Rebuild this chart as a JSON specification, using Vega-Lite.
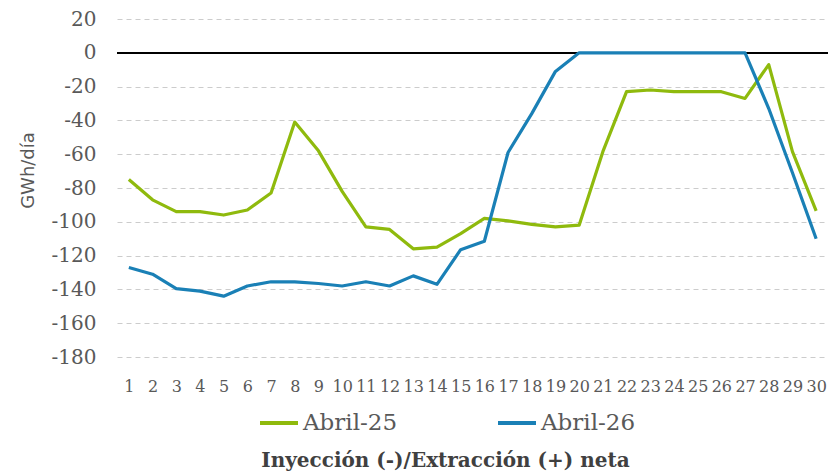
{
  "$schema": "https://vega.github.io/schema/vega-lite/v6.json",
  "width": 711,
  "height": 338,
  "autosize": "none",
  "padding": {"left": 117, "top": 19, "right": 2, "bottom": 114},
  "background": "white",
  "config": {
    "view": {"stroke": null},
    "font": "DejaVu Serif",
    "axisY": {"labelOverlap": false},
    "legend": {"labelFont": "DejaVu Serif", "labelFontSize": 23, "labelColor": "#595959"}
  },
  "title": {
    "text": "Inyección (-)/Extracción (+) neta",
    "orient": "bottom",
    "anchor": "middle",
    "fontSize": 20,
    "fontWeight": "bold",
    "color": "#404040",
    "font": "DejaVu Serif",
    "dx": -27,
    "offset": 16
  },
  "data": {
    "values": [
      {"day": 1, "serie": "Abril-25", "value": -75},
      {"day": 2, "serie": "Abril-25", "value": -87},
      {"day": 3, "serie": "Abril-25", "value": -94},
      {"day": 4, "serie": "Abril-25", "value": -94},
      {"day": 5, "serie": "Abril-25", "value": -96},
      {"day": 6, "serie": "Abril-25", "value": -93},
      {"day": 7, "serie": "Abril-25", "value": -83},
      {"day": 8, "serie": "Abril-25", "value": -41},
      {"day": 9, "serie": "Abril-25", "value": -58},
      {"day": 10, "serie": "Abril-25", "value": -82},
      {"day": 11, "serie": "Abril-25", "value": -103},
      {"day": 12, "serie": "Abril-25", "value": -104.5},
      {"day": 13, "serie": "Abril-25", "value": -116},
      {"day": 14, "serie": "Abril-25", "value": -115},
      {"day": 15, "serie": "Abril-25", "value": -107},
      {"day": 16, "serie": "Abril-25", "value": -98},
      {"day": 17, "serie": "Abril-25", "value": -99.5},
      {"day": 18, "serie": "Abril-25", "value": -101.5},
      {"day": 19, "serie": "Abril-25", "value": -103},
      {"day": 20, "serie": "Abril-25", "value": -102},
      {"day": 21, "serie": "Abril-25", "value": -58.5},
      {"day": 22, "serie": "Abril-25", "value": -23},
      {"day": 23, "serie": "Abril-25", "value": -22},
      {"day": 24, "serie": "Abril-25", "value": -23},
      {"day": 25, "serie": "Abril-25", "value": -23},
      {"day": 26, "serie": "Abril-25", "value": -23},
      {"day": 27, "serie": "Abril-25", "value": -27},
      {"day": 28, "serie": "Abril-25", "value": -7},
      {"day": 29, "serie": "Abril-25", "value": -58.5},
      {"day": 30, "serie": "Abril-25", "value": -93.5},
      {"day": 1, "serie": "Abril-26", "value": -127},
      {"day": 2, "serie": "Abril-26", "value": -131},
      {"day": 3, "serie": "Abril-26", "value": -139.5},
      {"day": 4, "serie": "Abril-26", "value": -141},
      {"day": 5, "serie": "Abril-26", "value": -144},
      {"day": 6, "serie": "Abril-26", "value": -138},
      {"day": 7, "serie": "Abril-26", "value": -135.5},
      {"day": 8, "serie": "Abril-26", "value": -135.5},
      {"day": 9, "serie": "Abril-26", "value": -136.5},
      {"day": 10, "serie": "Abril-26", "value": -138},
      {"day": 11, "serie": "Abril-26", "value": -135.5},
      {"day": 12, "serie": "Abril-26", "value": -138},
      {"day": 13, "serie": "Abril-26", "value": -132},
      {"day": 14, "serie": "Abril-26", "value": -137},
      {"day": 15, "serie": "Abril-26", "value": -116.5},
      {"day": 16, "serie": "Abril-26", "value": -111.5},
      {"day": 17, "serie": "Abril-26", "value": -59},
      {"day": 18, "serie": "Abril-26", "value": -36},
      {"day": 19, "serie": "Abril-26", "value": -11},
      {"day": 20, "serie": "Abril-26", "value": 0},
      {"day": 21, "serie": "Abril-26", "value": 0},
      {"day": 22, "serie": "Abril-26", "value": 0},
      {"day": 23, "serie": "Abril-26", "value": 0},
      {"day": 24, "serie": "Abril-26", "value": 0},
      {"day": 25, "serie": "Abril-26", "value": 0},
      {"day": 26, "serie": "Abril-26", "value": 0},
      {"day": 27, "serie": "Abril-26", "value": 0},
      {"day": 28, "serie": "Abril-26", "value": -33},
      {"day": 29, "serie": "Abril-26", "value": -71},
      {"day": 30, "serie": "Abril-26", "value": -110}
    ]
  },
  "layer": [
    {
      "mark": {"type": "rule", "color": "#000000", "strokeWidth": 1.5},
      "encoding": {
        "y": {
          "datum": 0,
          "type": "quantitative",
          "scale": {"domain": [-180, 20], "nice": false, "zero": false},
          "axis": {
            "title": "GWh/día",
            "titleFont": "DejaVu Sans",
            "titleFontSize": 18,
            "titleFontWeight": "normal",
            "titleColor": "#595959",
            "titlePadding": 14,
            "titleY": 151,
            "values": [-180, -160, -140, -120, -100, -80, -60, -40, -20, 0, 20],
            "labelExpr": "'' + datum.value",
            "labelOverlap": false,
            "labelFontSize": 20,
            "labelColor": "#595959",
            "labelFont": "DejaVu Serif",
            "labelPadding": 21,
            "ticks": false,
            "domain": false,
            "grid": true,
            "gridColor": "#cccccc",
            "gridDash": [5, 4],
            "gridWidth": 1
          }
        }
      }
    },
    {
      "mark": {"type": "line", "strokeWidth": 3.2, "strokeJoin": "round"},
      "encoding": {
        "x": {
          "field": "day",
          "type": "ordinal",
          "scale": {"type": "point", "padding": 0.5},
          "axis": {
            "title": null,
            "labelAngle": 0,
            "labelFontSize": 16,
            "labelColor": "#595959",
            "labelFont": "DejaVu Serif",
            "labelOverlap": false,
            "ticks": false,
            "domain": false,
            "labelPadding": 21
          }
        },
        "y": {
          "field": "value",
          "type": "quantitative",
          "scale": {"domain": [-180, 20], "nice": false, "zero": false},
          "axis": {
            "title": "GWh/día",
            "titleFont": "DejaVu Sans",
            "titleFontSize": 18,
            "titleFontWeight": "normal",
            "titleColor": "#595959",
            "titlePadding": 14,
            "titleY": 151,
            "values": [-180, -160, -140, -120, -100, -80, -60, -40, -20, 0, 20],
            "labelExpr": "'' + datum.value",
            "labelOverlap": false,
            "labelFontSize": 20,
            "labelColor": "#595959",
            "labelFont": "DejaVu Serif",
            "labelPadding": 21,
            "ticks": false,
            "domain": false,
            "grid": true,
            "gridColor": "#cccccc",
            "gridDash": [5, 4],
            "gridWidth": 1
          }
        },
        "color": {
          "field": "serie",
          "type": "nominal",
          "scale": {"domain": ["Abril-25", "Abril-26"], "range": ["#8fba0d", "#1a80b6"]},
          "legend": {
            "title": null,
            "orient": "none",
            "legendX": 141,
            "legendY": 383,
            "direction": "horizontal",
            "symbolType": "stroke",
            "symbolSize": 1444,
            "symbolStrokeWidth": 4,
            "labelFontSize": 23,
            "labelFont": "DejaVu Serif",
            "labelColor": "#595959",
            "labelOffset": 3,
            "columnPadding": 92
          }
        }
      }
    }
  ]
}
